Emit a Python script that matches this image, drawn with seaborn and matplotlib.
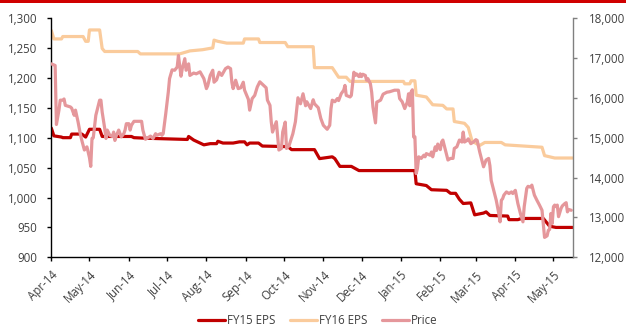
import numpy as np
import pandas as pd
import matplotlib
matplotlib.use("Agg")
import matplotlib.pyplot as plt
import matplotlib.dates as mdates
import matplotlib.ticker as mticker
from matplotlib.lines import Line2D
from matplotlib.patches import Rectangle
import seaborn as sns

# ---- data: day offsets from 1 Apr 2014 and values at each vertex ----
start = pd.Timestamp("2014-04-01")

fy15_days = [0, 2, 8, 9, 15, 16, 24, 27, 30, 38, 40, 63, 65, 75, 107, 108, 112,
             120, 125, 130, 131, 135, 143, 148, 152, 154, 156, 163, 166, 186,
             189, 207, 211, 221, 223, 227, 236, 242, 286, 287, 295, 299, 311,
             314, 318, 321, 324, 330, 333, 340, 342, 345, 359, 360, 367, 370,
             387, 392, 397, 410]
fy15_eps = [1116, 1103, 1101, 1100, 1100, 1106, 1106, 1101, 1114, 1114, 1102,
            1102, 1100, 1099, 1097, 1102, 1096, 1088, 1090, 1090, 1094, 1091,
            1091, 1093, 1093, 1088, 1091, 1091, 1086, 1085, 1080, 1080, 1065,
            1068, 1065, 1052, 1052, 1045, 1045, 1023, 1020, 1013, 1012, 1007,
            1007, 997, 990, 991, 971, 974, 976, 970, 969, 963, 963, 965, 965,
            952, 950, 950]

fy16_days = [0, 2, 8, 9, 25, 27, 29, 30, 38, 40, 42, 68, 70, 101, 109, 119,
             127, 128, 131, 138, 151, 152, 163, 164, 184, 186, 206, 207, 221,
             226, 232, 235, 277, 278, 282, 283, 286, 287, 295, 300, 308, 311,
             316, 317, 325, 328, 331, 337, 341, 354, 357, 386, 388, 396, 410]
fy16_eps = [1279, 1265, 1265, 1269, 1269, 1261, 1261, 1280, 1280, 1249, 1244,
            1244, 1240, 1240, 1245, 1247, 1250, 1263, 1261, 1258, 1258, 1265,
            1265, 1259, 1259, 1252, 1252, 1217, 1217, 1201, 1201, 1194, 1194,
            1190, 1190, 1195, 1195, 1171, 1168, 1155, 1154, 1148, 1148, 1127,
            1124, 1117, 1094, 1087, 1092, 1092, 1088, 1084, 1070, 1066, 1066]

price_days = [0, 3, 4, 6, 7, 9, 10, 11, 15, 16, 18, 19, 21, 23, 24, 26, 28, 30,
              31, 32, 33, 35, 36, 38, 39, 40, 42, 43, 44, 46, 48, 49, 50, 51,
              53, 55, 57, 58, 59, 61, 62, 63, 65, 71, 72, 74, 76, 78, 80, 82,
              83, 86, 87, 88, 90, 92, 93, 95, 97, 99, 100, 102, 103, 105, 106,
              108, 109, 112, 114, 117, 120, 122, 123, 125, 127, 128, 130, 132,
              134, 137, 139, 141, 142, 143, 145, 147, 149, 151, 152, 155, 156,
              158, 160, 162, 164, 167, 169, 170, 172, 173, 174, 175, 177, 179,
              181, 182, 184, 185, 187, 190, 192, 193, 194, 196, 198, 200, 201,
              204, 206, 207, 210, 212, 214, 217, 219, 220, 221, 223, 225, 226,
              228, 230, 231, 232, 235, 236, 238, 239, 240, 242, 243, 244, 245,
              247, 248, 249, 251, 252, 253, 255, 256, 259, 261, 264, 266, 270,
              273, 274, 276, 278, 280, 281, 282, 283, 284, 285, 286, 287, 288,
              289, 291, 293, 294, 295, 298, 299, 300, 302, 303, 304, 306, 307,
              308, 310, 311, 312, 314, 316, 317, 319, 321, 323, 324, 325, 327,
              328, 330, 332, 334, 335, 337, 339, 340, 342, 344, 345, 346, 348,
              349, 350, 352, 353, 354, 355, 356, 358, 360, 362, 363, 365, 366,
              367, 369, 371, 372, 374, 375, 377, 378, 380, 382, 384, 386, 387,
              388, 390, 391, 392, 393, 394, 395, 396, 397, 398, 399, 401, 402,
              404, 405, 406, 407, 409]
price = [16850, 16810, 15330, 15690, 15940, 15940, 15970, 15810, 15770, 15740,
         15560, 15690, 15400, 15060, 14930, 14690, 14770, 14500, 14280, 14980,
         15000, 15560, 15690, 15940, 15940, 15640, 15230, 14980, 15190, 15060,
         15030, 15140, 14930, 15040, 15190, 15020, 15100, 15190, 15350, 15350,
         15190, 15310, 15410, 15410, 15190, 14960, 15000, 15040, 14980, 15100,
         15060, 15100, 15060, 15100, 15600, 16140, 16480, 16700, 16690, 16770,
         17060, 16540, 16730, 16980, 16690, 16850, 16560, 16620, 16600, 16650,
         16480, 16230, 16300, 16560, 16690, 16390, 16450, 16640, 16560, 16730,
         16770, 16730, 16390, 16230, 16440, 16230, 16250, 16390, 16190, 15960,
         15690, 15980, 16060, 16270, 16400, 16310, 16250, 15940, 15810, 15400,
         15140, 15230, 15400, 14690, 14730, 15140, 15390, 14730, 14800, 15100,
         15400, 15700, 16000, 15850, 16100, 15800, 15900, 15730, 15950, 15850,
         15750, 15480, 15310, 15210, 15310, 15730, 15940, 15900, 15980, 15930,
         16100, 16190, 16310, 16060, 16020, 16060, 16640, 16560, 16600, 16530,
         16600, 16530, 16590, 16560, 16440, 16480, 16350, 16140, 15770, 15370,
         15890, 15940, 16090, 16140, 16150, 16190, 16190, 15980, 15900, 15730,
         15890, 16100, 15800, 16140, 16200, 15020, 15020, 14100, 14230, 14520,
         14480, 14560, 14520, 14600, 14560, 14640, 14520, 14770, 14680, 14840,
         14700, 14890, 14940, 14690, 14560, 14440, 14480, 14480, 14730, 14770,
         14940, 14890, 15140, 14890, 14930, 14970, 14850, 14890, 14950, 14930,
         14640, 14390, 14270, 14440, 14480, 14300, 13930, 13680, 13560, 13430,
         13100, 12890, 13430, 13470, 13560, 13640, 13600, 13640, 13600, 13680,
         13520, 13350, 13100, 12890, 13270, 13730, 13780, 13760, 13810, 13560,
         13430, 13310, 13180, 12850, 12500, 12540, 12680, 12700, 13100, 12850,
         13270, 13310, 13270, 13310, 13020, 13230, 13290, 13350, 13370, 13140,
         13200, 13180]

series_labels = ["FY15 EPS", "FY16 EPS", "Price"]
left_ticks = [900, 950, 1000, 1050, 1100, 1150, 1200, 1250, 1300]
right_ticks = [12000, 13000, 14000, 15000, 16000, 17000, 18000]

# ---- styling ----
sns.set_style("white")
plt.rcParams["font.family"] = ["Open Sans", "DejaVu Sans"]
plt.rcParams["font.size"] = 8.3

c_fy15 = "#C00000"
c_fy16 = "#FACB9C"
c_price = "#E5979B"
txt = "#404040"
lw = 2.3


def to_dates(days):
    return start + pd.to_timedelta(days, unit="D")


fig = plt.figure(figsize=(6.26, 3.27), dpi=100)
ax = fig.add_axes([0.082, 0.213, 0.834, 0.732])

sns.lineplot(x=to_dates(fy16_days), y=fy16_eps, ax=ax, color=c_fy16, lw=lw,
             legend=False)
sns.lineplot(x=to_dates(fy15_days), y=fy15_eps, ax=ax, color=c_fy15, lw=lw,
             legend=False)

ax2 = ax.twinx()
sns.lineplot(x=to_dates(price_days), y=price, ax=ax2, color=c_price, lw=lw,
             legend=False)

ax.set_xlim(start, start + pd.Timedelta(days=410.7))
ax.set_ylim(900, 1300)
ax2.set_ylim(12000, 18000)
ax.set_yticks(left_ticks)
ax2.set_yticks(right_ticks)
comma = mticker.FuncFormatter(lambda v, p: f"{v:,.0f}")
ax.yaxis.set_major_formatter(comma)
ax2.yaxis.set_major_formatter(comma)
ax.set_xlabel("")
ax.set_ylabel("")
ax2.set_ylabel("")

ax.xaxis.set_major_locator(mdates.MonthLocator())
ax.xaxis.set_major_formatter(mdates.DateFormatter("%b-%y"))
for lab in ax.get_xticklabels():
    lab.set_rotation(45)
    lab.set_ha("right")
    lab.set_rotation_mode("anchor")

for a in (ax, ax2):
    for s in a.spines.values():
        s.set_visible(False)
ax.spines["left"].set_visible(True)
ax.spines["bottom"].set_visible(True)
ax.spines["left"].set_color("black")
ax.spines["bottom"].set_color("black")
ax.spines["left"].set_linewidth(1.0)
ax.spines["bottom"].set_linewidth(1.0)
ax2.spines["right"].set_visible(True)
ax2.spines["right"].set_color("#808080")
ax2.spines["right"].set_linewidth(1.0)

ax.tick_params(axis="y", direction="out", length=3, width=1, color="black",
               labelcolor=txt, pad=7, left=True)
ax.tick_params(axis="x", direction="out", length=3, width=1, color="black",
               labelcolor=txt, pad=5, bottom=True)
ax2.tick_params(axis="y", direction="out", length=3, width=1, color="#808080",
                labelcolor=txt, pad=8, right=True)
ax.grid(False)
ax2.grid(False)

handles = [Line2D([], [], color=c, lw=lw) for c in (c_fy15, c_fy16, c_price)]
fig.legend(handles, series_labels, loc="center", ncol=3, frameon=False,
           bbox_to_anchor=(0.508, 0.02), handlelength=2.3, handletextpad=0.2,
           columnspacing=1.3, labelcolor=txt)

# red band across the top edge
fig.add_artist(Rectangle((0, 1 - 3 / 327), 1, 3 / 327, transform=fig.transFigure,
                         color="#D00000", lw=0))

fig.savefig("out.png", dpi=100)
